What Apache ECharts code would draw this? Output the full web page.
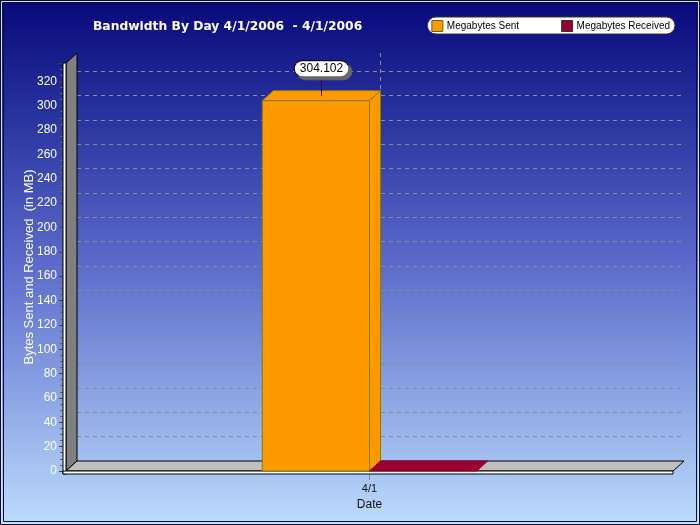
<!DOCTYPE html>
<html><head><meta charset="utf-8">
<script src="https://cdn.jsdelivr.net/npm/echarts@6/dist/echarts.min.js"></script>
<style>html,body{margin:0;padding:0;background:#fff}#c{width:700px;height:525px}</style>
</head><body><div id="c"></div>
<script>
const categories = ['4/1'];
const sentValues = [304.102];
const receivedValues = [0];
const seriesNames = ['Megabytes Sent', 'Megabytes Received'];
const titleText = 'Bandwidth By Day 4/1/2006  - 4/1/2006';
const yAxisTitle = 'Bytes Sent and Received  (in MB)';
const xAxisTitle = 'Date';

const DX = 11, DY = 10;
const chart = echarts.init(document.getElementById('c'), null, {renderer: 'canvas'});

function bar3d(slot, fill, stroke, showLabel) {
  return function (params, api) {
    const ci = api.value(0), v = api.value(1);
    const base = api.coord([ci, 0]);
    const topP = api.coord([ci, v]);
    const band = api.size([1, 0])[0];
    const w = band * 0.1766;
    const x0 = base[0] + slot * w;
    const y0 = base[1], y1 = topP[1];
    const ls = {fill: fill, stroke: stroke, lineWidth: 1};
    const children = [];
    if (y0 - y1 > 0.5) {
      children.push({type: 'rect', shape: {x: x0, y: y1, width: w, height: y0 - y1}, style: ls});
      children.push({type: 'polygon', shape: {points: [[x0 + w, y1], [x0 + w + DX, y1 - DY], [x0 + w + DX, y0 - DY], [x0 + w, y0]]}, style: ls});
    }
    children.push({type: 'polygon', shape: {points: [[x0, y1], [x0 + DX, y1 - DY], [x0 + w + DX, y1 - DY], [x0 + w, y1]]}, style: {fill: fill, stroke: y0 - y1 > 0.5 ? stroke : fill, lineWidth: 1}});
    if (showLabel) {
      const lx = Math.round(x0 + w / 2 + DX / 2) + 0.5;
      const ly = y1 - DY / 2;
      children.push({type: 'line', shape: {x1: lx, y1: ly, x2: lx, y2: ly - 20}, style: {stroke: '#400040', lineWidth: 1}});
      children.push({type: 'text', x: lx, y: ly - 27, style: {
        text: String(v), fill: '#000', font: '12px "Liberation Sans", Arial, sans-serif',
        align: 'center', verticalAlign: 'middle', backgroundColor: '#fff',
        borderColor: '#000', borderWidth: 1, borderRadius: 8, padding: [2, 5, 1, 5],
        shadowColor: '#666', shadowOffsetX: 3, shadowOffsetY: 3, shadowBlur: 0
      }});
    }
    return {type: 'group', children: children};
  };
}

function decor(params, api) {
  if (params.dataIndex !== 0) return null;
  const cs = params.coordSys;
  const L = cs.x, T = cs.y, R = cs.x + cs.width, B = cs.y + cs.height;
  return {type: 'group', children: [
    {type: 'polygon', shape: {points: [[L, B], [L, T], [L + DX, T - DY], [L + DX, B - DY]]}, style: {fill: '#808080', stroke: '#000', lineWidth: 1}},
    {type: 'polygon', shape: {points: [[L, B], [L + DX, B - DY], [R + DX, B - DY], [R, B]]}, style: {fill: '#c0c0c0', stroke: '#000', lineWidth: 1}},
    {type: 'rect', shape: {x: L - 3, y: T, width: 3, height: B - T + 3}, style: {fill: '#fff', stroke: '#000', lineWidth: 1}},
    {type: 'rect', shape: {x: L - 3, y: B, width: R - L + 3, height: 3}, style: {fill: '#fff', stroke: '#000', lineWidth: 1}}
  ]};
}

const shadowText = {color: '#fff', textShadowColor: '#000', textShadowOffsetX: 1, textShadowOffsetY: 1, textShadowBlur: 0};

chart.setOption({
  backgroundColor: {type: 'linear', x: 0, y: 0, x2: 0, y2: 1, colorStops: [
    {offset: 0, color: '#08087a'}, {offset: 0.23, color: '#2a35a0'}, {offset: 0.51, color: '#5d6ccc'},
    {offset: 0.76, color: '#8ca6e5'}, {offset: 1, color: '#bddcfc'}]},
  animation: false,
  title: {text: titleText, left: 88, top: 16, textStyle: Object.assign({fontSize: 12.3, fontWeight: 'bold', fontFamily: '"DejaVu Sans", sans-serif'}, shadowText)},
  legend: {
    data: [
      {name: seriesNames[0], itemStyle: {color: '#ff9900', borderColor: '#666600', borderWidth: 1}},
      {name: seriesNames[1], itemStyle: {color: '#990033', borderColor: '#333', borderWidth: 1}}
    ],
    right: 25, top: 17, icon: 'rect', itemWidth: 11, itemHeight: 11, itemGap: 42,
    backgroundColor: '#fff', borderColor: '#333', borderWidth: 1, borderRadius: 9, padding: [3, 5, 2, 4],
    textStyle: {fontSize: 10, color: '#000', fontFamily: '"Liberation Sans", Arial, sans-serif', padding: [0, 0, 0, -1]}
  },
  grid: [
    {left: 66, right: 27, top: 63, bottom: 54},
    {left: 77, right: 16, top: 71, bottom: 64},
    {left: 77, right: 16, top: 53, bottom: 64}
  ],
  xAxis: [
    {type: 'category', gridIndex: 0, data: categories,
      axisLine: {show: false}, axisTick: {show: true, alignWithLabel: true, length: 9, lineStyle: {color: '#888'}},
      axisLabel: {color: '#111', fontSize: 11, margin: 12, fontFamily: '"Liberation Sans", Arial, sans-serif'},
      name: xAxisTitle, nameLocation: 'middle', nameGap: 28, nameMoveOverlap: false,
      nameTextStyle: {color: '#111', fontSize: 12, fontFamily: '"Liberation Sans", Arial, sans-serif'}},
    {type: 'category', gridIndex: 1, data: categories,
      axisLine: {show: false}, axisTick: {show: false}, axisLabel: {show: false}, splitLine: {show: false}},
    {type: 'category', gridIndex: 2, data: ['', categories[0], ''], boundaryGap: false,
      axisLine: {show: false}, axisTick: {show: false}, axisLabel: {show: false},
      splitLine: {show: true, interval: function (i) { return i === 1; }, lineStyle: {color: '#8c8c8c', type: [4, 4]}}}
  ],
  yAxis: [
    {type: 'value', gridIndex: 0, min: 0, max: 335, interval: 20,
      axisLine: {show: false}, splitLine: {show: false},
      axisTick: {show: true, length: 7, lineStyle: {color: '#444'}},
      minorTick: {show: true, splitNumber: 4, length: 6, lineStyle: {color: '#666'}},
      axisLabel: Object.assign({fontSize: 12, margin: 9, showMaxLabel: false, fontFamily: '"Liberation Sans", Arial, sans-serif'}, shadowText),
      name: yAxisTitle, nameLocation: 'middle', nameGap: 30, nameMoveOverlap: false,
      nameTextStyle: Object.assign({fontSize: 13, fontFamily: '"Liberation Sans", Arial, sans-serif'}, shadowText)},
    {type: 'value', gridIndex: 1, min: 0, max: 320, interval: 20,
      axisLine: {show: false}, axisTick: {show: false}, axisLabel: {show: false},
      splitLine: {show: true, lineStyle: {color: '#8c8c8c', type: [4, 4]}}},
    {type: 'value', gridIndex: 2, min: 0, max: 335,
      axisLine: {show: false}, axisTick: {show: false}, axisLabel: {show: false}, splitLine: {show: false}}
  ],
  graphic: [
    {type: 'rect', shape: {x: 0.5, y: 0.5, width: 699, height: 524}, style: {fill: null, stroke: '#0a0f30', lineWidth: 1}, silent: true, z: 100},
    {type: 'rect', shape: {x: 1.5, y: 1.5, width: 697, height: 522}, style: {fill: null, stroke: '#d8e0f0', lineWidth: 1}, silent: true, z: 100},
    {type: 'rect', shape: {x: 3.5, y: 3.5, width: 693, height: 518}, style: {fill: null, stroke: '#0a1040', lineWidth: 1}, silent: true, z: 100}
  ],
  series: [
    {type: 'custom', name: '_decor', xAxisIndex: 0, yAxisIndex: 0, z: 1, silent: true,
      renderItem: decor, data: [[0, 0]], encode: {x: 0, y: 1}},
    {type: 'custom', name: seriesNames[0], xAxisIndex: 0, yAxisIndex: 0, z: 3,
      itemStyle: {color: '#ff9900'},
      renderItem: bar3d(-1, '#ff9900', '#808000', true),
      data: categories.map((c, i) => [i, sentValues[i]]), encode: {x: 0, y: 1}},
    {type: 'custom', name: seriesNames[1], xAxisIndex: 0, yAxisIndex: 0, z: 3,
      itemStyle: {color: '#990033'},
      renderItem: bar3d(0, '#990033', '#660022', false),
      data: categories.map((c, i) => [i, receivedValues[i]]), encode: {x: 0, y: 1}}
  ]
});
</script></body></html>
